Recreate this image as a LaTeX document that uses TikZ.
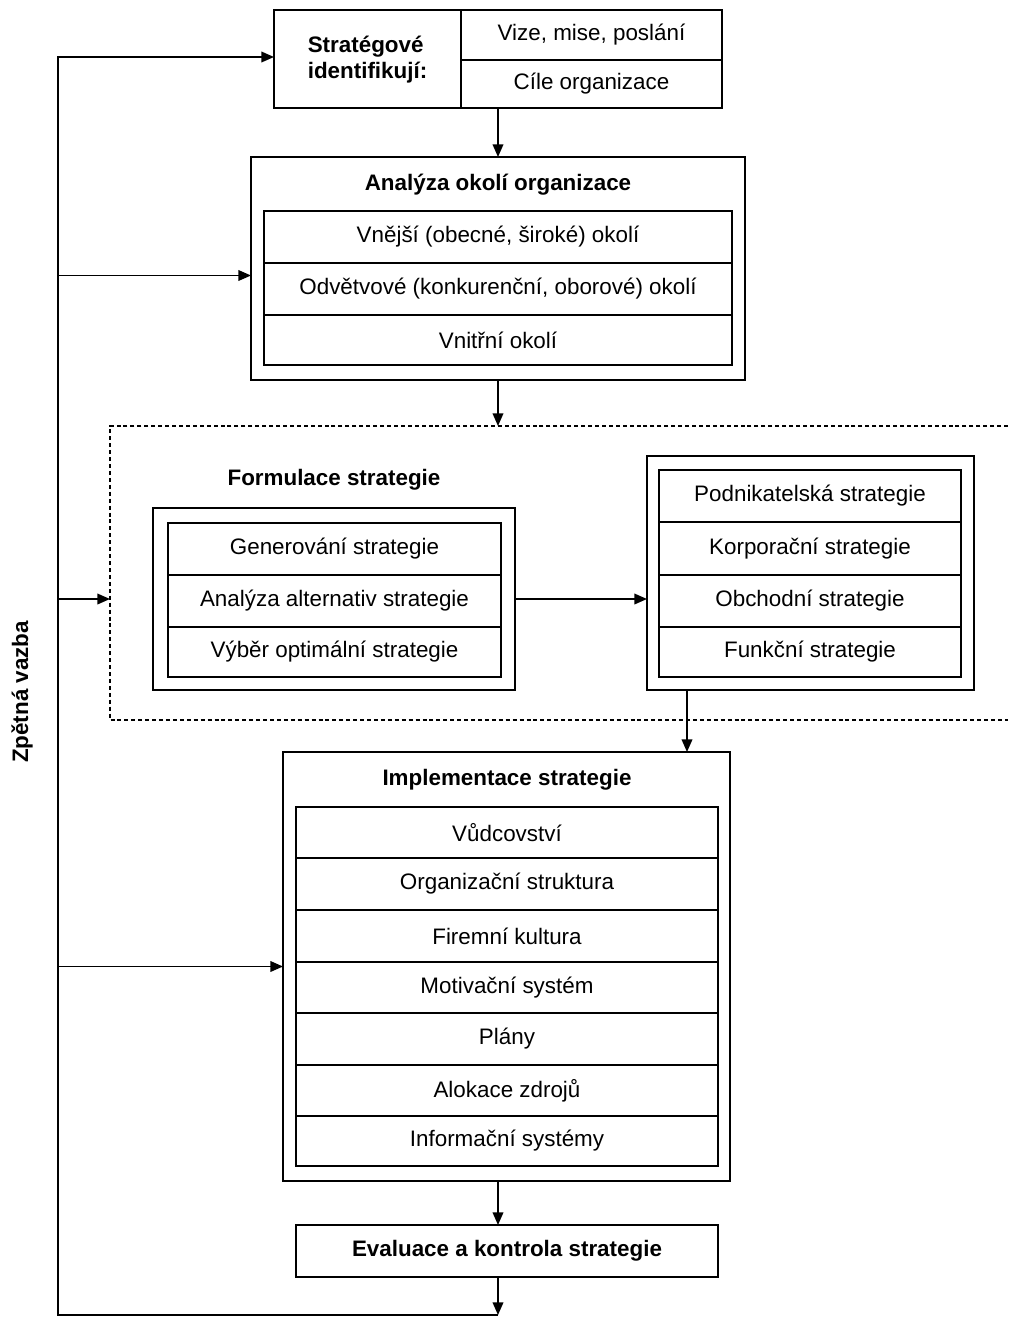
\documentclass[tikz,border=0pt]{standalone}
\usepackage{fontspec}
\setmainfont{Liberation Sans}
\usetikzlibrary{arrows.meta,calc}
\newdimen\upx \upx=0.75pt
\begin{document}
\begin{tikzpicture}[x=0.75pt,y=-0.75pt,
  font=\fontsize{16.8}{19.5}\selectfont,
  every node/.style={inner sep=0pt, outer sep=0pt},
  sz/.style n args={2}{minimum width=#1\upx, minimum height=#2\upx},
  cell/.style={draw, line width=1.2pt, rectangle, anchor=center},
  frame/.style={draw, line width=1.2pt, rectangle, anchor=center},
  title/.style={font=\fontsize{16.8}{19.5}\selectfont\bfseries},
  arr/.style={line width=1.2pt, -{Triangle[length=9.5pt,width=8pt]}},
  region/.style={line width=1.1pt, dash pattern=on 3pt off 2.2pt}]
\useasboundingbox (0,0) rectangle (1008,1318);

% strategists and their goals
\node[cell,sz={187}{98}] (strat) at (367.5,59) {};
\node[title,align=left] (stratT) at (367.5,60) {Stratégové\\identifikují:};
\node[cell,sz={261}{50}] (vize) at (591.5,35) {Vize, mise, poslání};
\node[cell,sz={261}{48}] (cile) at (591.5,84) {Cíle organizace};

% environment analysis
\node[frame,sz={494}{223}] (anal) at (498,268.5) {};
\node[title] (analT) at (498,185) {Analýza okolí organizace};
\node[cell,sz={468}{52}] (vnejsi) at (498,237) {Vnější (obecné, široké) okolí};
\node[cell,sz={468}{52}] (odv) at (498,289) {Odvětvové (konkurenční, oborové) okolí};
\node[cell,sz={468}{50}] (vnitr) at (498,340) {Vnitřní okolí};

% strategy formulation region
\coordinate (dTL) at (110,426);
\coordinate (dBL) at (110,720);
\draw[region] (1008,426) -- (dTL) -- (dBL) -- (1008,720);
\node[title] (formT) at (334,480) {Formulace strategie};

\node[frame,sz={362}{182}] (genbox) at (334,599) {};
\node[cell,sz={333}{52}] (gen) at (334.5,549) {Generování strategie};
\node[cell,sz={333}{52}] (alt) at (334.5,601) {Analýza alternativ strategie};
\node[cell,sz={333}{50}] (vyb) at (334.5,652) {Výběr optimální strategie};

\node[frame,sz={327}{234}] (typbox) at (810.5,573) {};
\node[cell,sz={302}{52}] (podn) at (810,496) {Podnikatelská strategie};
\node[cell,sz={302}{53}] (korp) at (810,548.5) {Korporační strategie};
\node[cell,sz={302}{52}] (obch) at (810,601) {Obchodní strategie};
\node[cell,sz={302}{50}] (funk) at (810,652) {Funkční strategie};

% implementation
\node[frame,sz={447}{429}] (impl) at (506.5,966.5) {};
\node[title] (implT) at (507,780) {Implementace strategie};
\node[cell,sz={422}{51}] (vud) at (507,832.5) {Vůdcovství};
\node[cell,sz={422}{52}] (org) at (507,884) {Organizační struktura};
\node[cell,sz={422}{52}] (fir) at (507,936) {Firemní kultura};
\node[cell,sz={422}{51}] (mot) at (507,987.5) {Motivační systém};
\node[cell,sz={422}{52}] (plan) at (507,1039) {Plány};
\node[cell,sz={422}{51}] (alok) at (507,1090.5) {Alokace zdrojů};
\node[cell,sz={422}{50}] (info) at (507,1141) {Informační systémy};

% evaluation
\node[cell,sz={422}{52},title] (eval) at (507,1251) {Evaluace a kontrola strategie};

% feedback label
\node[title,rotate=90] (zv) at (22,692) {Zpětná vazba};

% main flow
\draw[arr] (cile.south -| anal.north) -- (anal.north);
\draw[arr] (anal.south) -- (anal.south |- dTL);
\draw[arr] (genbox.east) -- (genbox.east -| typbox.west);
\coordinate (tyout) at ($(typbox.south west)+(40,0)$);
\draw[arr] (tyout) -- (tyout |- impl.north);
\draw[arr] (impl.south -| anal.south) -- (eval.north -| anal.south);

% feedback loop
\coordinate (fbB) at (58,1315);
\coordinate (fbT) at (58,57);
\draw[arr] (eval.south -| anal.south) -- (fbB -| anal.south);
\draw[arr] (fbB -| anal.south) -- (fbB) -- (fbT) -- (fbT -| strat.west);
\coordinate (analIn) at ($(anal.west)+(0,7)$);
\draw[arr] (fbT |- analIn) -- (analIn);
\draw[arr] (fbT |- genbox.east) -- (genbox.east -| dTL);
\draw[arr] (fbT |- impl.west) -- (impl.west);
\end{tikzpicture}
\end{document}
